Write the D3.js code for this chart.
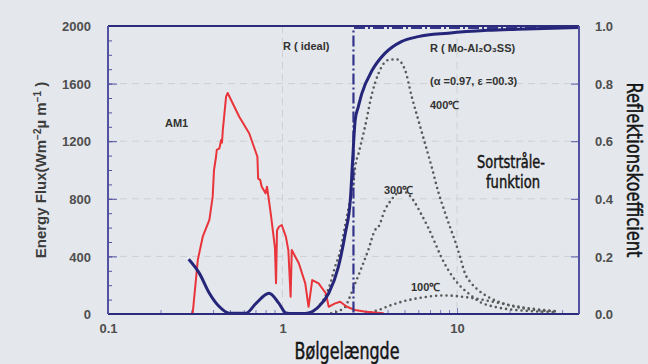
<!DOCTYPE html>
<html>
<head>
<meta charset="utf-8">
<script src="https://cdn.jsdelivr.net/npm/d3@7"></script>
<style>
  html, body { margin: 0; padding: 0; background: #e4e7eb; }
  svg { display: block; }
  .tick-label { font-family: "Liberation Sans", Arial, sans-serif; font-weight: bold; font-size: 13px; fill: #4e4e4e; }
  .note { font-family: "Liberation Sans", Arial, sans-serif; font-weight: bold; font-size: 11px; fill: #333; }
  .narrow { font-family: "DejaVu Sans", sans-serif; font-stretch: condensed; font-weight: normal; fill: #151515; stroke: #151515; stroke-width: 0.45px; }
</style>
</head>
<body>
<div id="chart"></div>
<script>
// AM1 solar spectrum (wavelength um, W m-2 um-1)
var am1Wave = [0.30, 0.306, 0.327, 0.349, 0.381, 0.398, 0.405, 0.416, 0.42, 0.435, 0.445, 0.45, 0.455, 0.475, 0.485, 0.565, 0.644, 0.70, 0.718, 0.725, 0.745, 0.76, 0.80, 0.815, 0.856, 0.905, 0.918, 0.93, 0.954, 0.99, 1.045, 1.08, 1.113, 1.13, 1.24, 1.35, 1.41, 1.48, 1.61, 1.77, 1.84, 2.0, 2.14, 2.34, 2.6, 3.0, 3.5, 3.8];
var am1Flux = [0, 10, 375, 537, 653, 815, 1000, 1092, 1139, 1150, 1208, 1190, 1278, 1509, 1535, 1370, 1255, 1130, 1092, 940, 931, 884, 838, 884, 699, 460, 213, 580, 606, 618, 537, 444, 120, 444, 352, 213, 50, 236, 213, 144, 50, 74, 85, 50, 28, 15, 8, 5];

// reflectance R (Mo-Al2O3 SS), right axis
var rWave = [0.29, 0.334, 0.381, 0.435, 0.496, 0.617, 0.705, 0.837, 0.954, 1.045, 1.09, 1.35, 1.61, 1.84, 2.09, 2.29, 2.45, 2.52, 2.61, 2.72, 2.85, 3.27, 3.86, 4.8, 6.0, 8.9, 15, 25, 50];
var rValue = [0.19, 0.141, 0.072, 0.025, 0.003, 0.003, 0.037, 0.072, 0.037, 0.004, 0.002, 0.002, 0.025, 0.072, 0.164, 0.28, 0.40, 0.53, 0.674, 0.72, 0.766, 0.847, 0.905, 0.946, 0.963, 0.975, 0.985, 0.99, 0.995];

// ideal reflector
var idealWave = [0.1, 2.55, 2.55, 50];
var idealValue = [0, 0, 0.993, 0.993];

// blackbody curves
var bb400Wave = [1.41, 1.61, 1.88, 2.0, 2.15, 2.24, 2.34, 2.44, 2.55, 2.61, 2.73, 2.97, 3.26, 3.55, 4.04, 4.51, 5.04, 5.5, 6.0, 6.55, 7.15, 7.8, 8.5, 9.1, 9.7, 10.4, 11.1, 12.1, 13.2, 15.0, 18.7, 25.4, 37.5];
var bb400Flux = [5, 50, 213, 328, 444, 560, 676, 792, 907, 1023, 1116, 1300, 1532, 1671, 1764, 1768, 1694, 1509, 1347, 1185, 1023, 850, 710, 606, 514, 398, 283, 213, 167, 120, 70, 35, 18];
var bb300Wave = [1.9, 2.29, 2.39, 2.61, 2.85, 3.1, 3.39, 3.55, 3.86, 4.2, 4.6, 5.04, 5.6, 6.2, 6.8, 7.5, 8.1, 8.9, 10.1, 11.6, 13.7, 16.4, 20, 25, 37.5];
var bb300Flux = [5, 50, 97, 213, 328, 444, 583, 606, 722, 792, 840, 845, 792, 699, 606, 491, 398, 306, 213, 144, 80, 50, 32, 22, 13];
var bb100Wave = [3.0, 3.55, 4.2, 5.0, 6, 7, 8, 9, 10, 12, 15, 20, 25, 30, 37.5];
var bb100Flux = [3, 28, 62, 90, 110, 122, 128, 128, 124, 112, 92, 62, 42, 30, 18];

var fluxTicks = [0, 400, 800, 1200, 1600, 2000];
var reflTicks = [0, 0.2, 0.4, 0.6, 0.8, 1.0];
var waveTicks = [0.1, 1, 10];

var W = 648, H = 364;
var pL = 108, pR = 579, pT = 26, pB = 314;

var svg = d3.select("#chart").append("svg").attr("width", W).attr("height", H);

var x = d3.scaleLog().domain([0.1, 50]).range([pL, pR]);
var yF = d3.scaleLinear().domain([0, 2000]).range([pB, pT]);
var yR = d3.scaleLinear().domain([0, 1]).range([pB, pT]);

function zip(a, b) { return a.map(function(v, i) { return [v, b[i]]; }); }

// faint grid
var grid = svg.append("g").attr("stroke", "#cdd1d6").attr("stroke-width", 1).attr("stroke-dasharray", "7 5");
grid.selectAll("line.h").data(fluxTicks.slice(1, -1)).enter().append("line")
  .attr("x1", pL).attr("x2", pR).attr("y1", function(d) { return yF(d); }).attr("y2", function(d) { return yF(d); });
grid.selectAll("line.v").data([1, 10]).enter().append("line")
  .attr("x1", function(d) { return x(d); }).attr("x2", function(d) { return x(d); }).attr("y1", pT).attr("y2", pB);

// axes (ticks inside)
var minorFlux = d3.range(0, 2001, 100);
svg.append("g").attr("transform", "translate(" + pL + ",0)")
  .call(d3.axisLeft(yF).tickValues(minorFlux).tickSize(-4).tickFormat(""))
  .call(function(g) { g.select(".domain").remove(); g.selectAll("line").attr("stroke", "#5252a0"); });
svg.append("g").attr("transform", "translate(" + pL + ",0)")
  .call(d3.axisLeft(yF).tickValues(fluxTicks).tickSize(-9).tickPadding(17).tickFormat(d3.format("d")))
  .call(function(g) {
    g.select(".domain").remove();
    g.selectAll("line").attr("stroke", "#5252a0");
    g.selectAll("text").attr("class", "tick-label").attr("dy", "0.36em");
  });

svg.append("g").attr("transform", "translate(" + pR + ",0)")
  .call(d3.axisRight(yR).tickValues(reflTicks).tickSize(-8).tickPadding(16).tickFormat(d3.format(".1f")))
  .call(function(g) {
    g.select(".domain").remove();
    g.selectAll("line").attr("stroke", "#5252a0");
    g.selectAll("text").attr("class", "tick-label").attr("dy", "0.36em");
  });

var minorWave = [];
[0.1, 1, 10].forEach(function(d) { for (var k = 2; k <= 9; k++) { if (d * k <= 50) minorWave.push(d * k); } });
svg.append("g").attr("transform", "translate(0," + pB + ")")
  .call(d3.axisBottom(x).tickValues(minorWave).tickSize(-4).tickFormat(""))
  .call(function(g) { g.select(".domain").remove(); g.selectAll("line").attr("stroke", "#7c7cc0"); });
svg.append("g").attr("transform", "translate(0," + pB + ")")
  .call(d3.axisBottom(x).tickValues(waveTicks).tickSize(-6).tickPadding(10).tickFormat(function(d) { return String(d); }))
  .call(function(g) {
    g.select(".domain").remove();
    g.selectAll("line").attr("stroke", "#7c7cc0");
    g.selectAll("text").attr("class", "tick-label").attr("dy", "0.71em");
  });

// curves
var lineF = d3.line().x(function(d) { return x(d[0]); }).y(function(d) { return yF(d[1]); });
var lineFs = d3.line().curve(d3.curveMonotoneX).x(function(d) { return x(d[0]); }).y(function(d) { return yF(d[1]); });
var lineR = d3.line().curve(d3.curveMonotoneX).x(function(d) { return x(d[0]); }).y(function(d) { return yR(d[1]); });
var lineRi = d3.line().x(function(d) { return x(d[0]); }).y(function(d) { return yR(d[1]); });

[[bb400Wave, bb400Flux], [bb300Wave, bb300Flux], [bb100Wave, bb100Flux]].forEach(function(s) {
  svg.append("path").datum(zip(s[0], s[1])).attr("d", lineFs)
    .attr("fill", "none").attr("stroke", "#5a5a5a").attr("stroke-width", 2.6)
    .attr("stroke-linecap", "round").attr("stroke-dasharray", "0 5.2");
});

svg.append("path").datum(zip(am1Wave, am1Flux)).attr("d", lineF)
  .attr("fill", "none").attr("stroke", "#e8343a").attr("stroke-width", 2).attr("stroke-linejoin", "round");

svg.append("path").datum(zip(idealWave, idealValue)).attr("d", lineRi)
  .attr("fill", "none").attr("stroke", "#34348a").attr("stroke-width", 2.2).attr("stroke-dasharray", "11 3 2 3");

svg.append("path").datum(zip(rWave, rValue)).attr("d", lineR)
  .attr("fill", "none").attr("stroke", "#25267a").attr("stroke-width", 3);

// frame
svg.append("line").attr("x1", pL).attr("x2", pR).attr("y1", pT).attr("y2", pT).attr("stroke", "#2c2c7c").attr("stroke-width", 2);
svg.append("line").attr("x1", pL).attr("x2", pR).attr("y1", pB).attr("y2", pB).attr("stroke", "#2c2c7c").attr("stroke-width", 2);
svg.append("line").attr("x1", pL).attr("x2", pL).attr("y1", pT).attr("y2", pB).attr("stroke", "#5252a0").attr("stroke-width", 2);
svg.append("line").attr("x1", pR).attr("x2", pR).attr("y1", pT).attr("y2", pB).attr("stroke", "#5252a0").attr("stroke-width", 2);

// annotations
var notes = [
  ["AM1", 165, 127],
  ["R ( ideal)", 283, 50],
  ["R ( Mo-Al\u2082O\u2083SS)", 430, 52],
  ["(\u03b1 =0.97, \u03b5 =00.3)", 430, 85],
  ["400\u2103", 430, 109],
  ["300\u2103", 384, 194],
  ["100\u2103", 411, 291]
];
svg.selectAll("text.note").data(notes).enter().append("text").attr("class", "note")
  .attr("x", function(d) { return d[1]; }).attr("y", function(d) { return d[2]; }).text(function(d) { return d[0]; });

function narrowText(str, cx, cy, size, len, rot) {
  return svg.append("text").attr("class", "narrow")
    .attr("transform", "translate(" + cx + "," + cy + ")" + (rot ? " rotate(" + rot + ")" : ""))
    .attr("text-anchor", "middle").style("font-size", size + "px")
    .attr("textLength", len).attr("lengthAdjust", "spacingAndGlyphs").text(str);
}
narrowText("Sortstr\u00e5le-", 511, 168, 18, 68);
narrowText("funktion", 513, 188, 18, 54);
narrowText("B\u00f8lgel\u00e6ngde", 347, 359, 23, 105);
narrowText("Reflektionskoefficient", 627, 170, 22, 175, 90);

// left axis title
var yt = svg.append("text").attr("transform", "translate(46,170) rotate(-90)").attr("text-anchor", "middle")
  .style("font-family", "Liberation Sans, Arial, sans-serif").style("font-size", "15px").style("font-weight", "bold").style("fill", "#3c3c3c");
yt.append("tspan").text("Energy Flux(Wm");
yt.append("tspan").attr("dy", -5).style("font-size", "10px").text("\u22122");
yt.append("tspan").attr("dy", 5).text("\u00b5 m");
yt.append("tspan").attr("dy", -5).style("font-size", "10px").text("\u22121");
yt.append("tspan").attr("dy", 5).text(" )");
</script>
</body>
</html>
